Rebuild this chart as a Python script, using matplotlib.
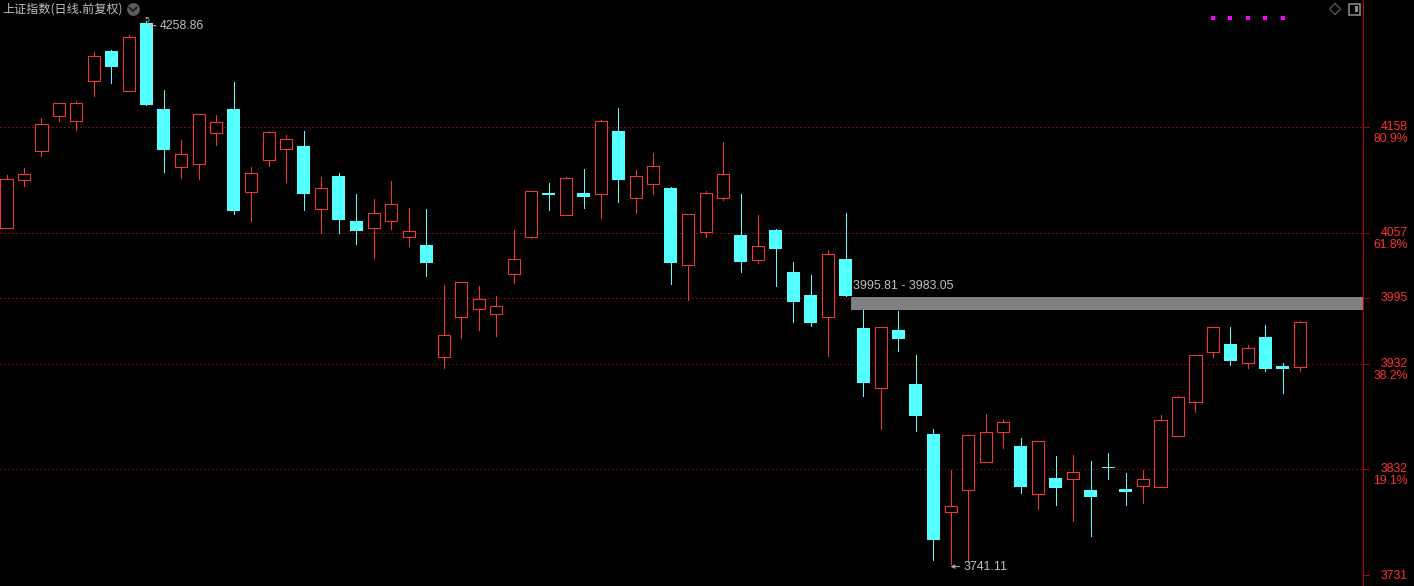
import matplotlib
matplotlib.use("Agg")
import matplotlib.pyplot as plt
from matplotlib.patches import Rectangle
import numpy as np

plt.rcParams['font.family'] = ['Liberation Sans', 'Noto Sans CJK SC', 'DejaVu Sans']

# daily candles, oldest first
opens = [4061.7, 4107.4, 4135.0, 4168.3, 4163.5, 4201.6, 4229.9, 4192.1, 4256.5, 4174.6,
         4119.8, 4122.6, 4152.1, 4174.6, 4096.0, 4126.4, 4136.9, 4139.4, 4079.7, 4110.9,
         4068.0, 4061.7, 4068.3, 4053.1, 4045.2, 3938.9, 3977.0, 3984.6, 3979.8, 4017.9,
         4053.1, 4094.7, 4074.1, 4094.7, 4094.1, 4153.7, 4090.3, 4103.6, 4099.5, 4026.5,
         4057.6, 4090.3, 4054.7, 4031.2, 4059.5, 4019.5, 3997.6, 3977.0, 4031.9, 3966.2,
         3909.4, 3964.3, 3912.9, 3865.3, 3791.4, 3812.3, 3839.0, 3867.5, 3853.9, 3808.5,
         3823.4, 3822.8, 3812.0, 3833.9, 3812.9, 3816.1, 3815.2, 3863.7, 3896.1, 3943.7,
         3951.0, 3933.2, 3957.6, 3930.0, 3929.4]
closes = [4107.7, 4112.5, 4160.0, 4180.0, 4180.0, 4224.8, 4214.7, 4242.9, 4178.4, 4135.6,
          4131.5, 4169.6, 4161.9, 4077.6, 4113.4, 4152.4, 4145.8, 4093.7, 4099.1, 4069.0,
          4058.5, 4075.3, 4083.9, 4058.2, 4028.0, 3959.2, 4009.7, 3993.5, 3986.8, 4031.6,
          4096.3, 4092.8, 4108.7, 4090.9, 4162.9, 4107.1, 4110.6, 4120.1, 4028.1, 4074.4,
          4094.4, 4112.5, 4029.0, 4043.9, 4041.4, 3990.9, 3970.9, 4036.3, 3996.6, 3913.8,
          3966.8, 3955.7, 3882.4, 3764.4, 3796.4, 3864.0, 3866.9, 3876.4, 3814.8, 3858.3,
          3813.9, 3828.8, 3805.3, 3832.9, 3810.1, 3822.1, 3878.3, 3900.2, 3940.2, 3966.8,
          3934.8, 3946.8, 3927.2, 3927.2, 3971.6]
highs = [4111.5, 4118.5, 4166.1, 4180.0, 4181.9, 4228.9, 4230.8, 4245.1, 4258.86, 4192.7,
         4145.1, 4169.6, 4168.9, 4200.3, 4119.4, 4153.4, 4149.9, 4153.7, 4109.9, 4113.7,
         4093.7, 4089.0, 4106.1, 4080.4, 4079.4, 4007.1, 4009.7, 4006.2, 3996.6, 4059.5,
         4096.3, 4104.2, 4109.9, 4117.5, 4164.2, 4175.6, 4116.6, 4132.8, 4100.4, 4074.4,
         4096.3, 4143.2, 4093.7, 4073.8, 4060.4, 4029.0, 4016.6, 4040.4, 4075.7, 3995.0,
         3966.8, 3982.4, 3940.5, 3870.1, 3831.0, 3864.0, 3884.3, 3878.6, 3861.5, 3858.3,
         3844.4, 3845.3, 3839.6, 3847.2, 3828.2, 3831.0, 3883.4, 3901.5, 3940.2, 3966.8,
         3967.2, 3950.0, 3969.1, 3932.9, 3972.9]
lows = [4061.7, 4101.7, 4130.2, 4163.5, 4155.0, 4187.3, 4199.7, 4192.1, 4178.4, 4114.7,
        4109.0, 4108.0, 4140.4, 4074.7, 4068.0, 4120.4, 4105.1, 4078.5, 4056.9, 4056.6,
        4046.1, 4032.8, 4060.4, 4044.2, 4015.6, 3928.1, 3956.7, 3964.3, 3958.6, 4009.0,
        4051.9, 4078.5, 4074.1, 4080.4, 4070.9, 4086.1, 4075.7, 4093.7, 4008.1, 3992.8,
        4052.8, 4088.0, 4019.5, 4028.1, 4006.2, 3971.9, 3968.1, 3939.5, 3996.6, 3901.4,
        3870.1, 3944.3, 3868.1, 3745.3, 3741.11, 3743.8, 3839.0, 3852.0, 3809.1, 3793.9,
        3797.7, 3782.5, 3768.2, 3822.5, 3797.7, 3799.6, 3815.2, 3863.7, 3886.2, 3938.6,
        3931.0, 3928.1, 3925.3, 3904.3, 3925.3]

# right hand scale
strong_levels = [4158, 4057, 3995]
weak_levels = [3932, 3832]
scale_ticks = [4158, 4057, 3995, 3932, 3832, 3731]
pct_levels = [4158, 4057, 3932, 3832]
pct_labels = ['80.9%', '61.8%', '38.2%', '19.1%']

# gap zone and the purple signal dots
gap_top = 3995.81
gap_bottom = 3983.05
signal_idx = [69, 70, 71, 72, 73]
signal_price = [4261, 4261, 4261, 4261, 4261]

RED = '#ff3232'
CYAN = '#54ffff'
GREY = '#c0c0c0'
AXIS_RED = '#c00000'
W, H = 1414, 586

fig = plt.figure(figsize=(W / 100, H / 100), dpi=100, facecolor='black')
ax = fig.add_axes([0, 0, 1363 / W, 1], facecolor='black')

step = 17.485
ax.set_xlim(-6.5 / step, (1363 - 6.5) / step)
ax.set_ylim(4158 - (586 - 126.5) * 0.952, 4158 + 126.5 * 0.952)

px = 0.72  # 1 pixel in points
for lv in strong_levels:
    ax.axhline(lv, color='#ff1818', lw=px, ls=(0, (1, 3)), zorder=1)
for lv in weak_levels:
    ax.axhline(lv, color='#c01010', lw=px, ls=(0, (1, 3)), zorder=1)

x = np.arange(len(opens))
o = np.array(opens)
c = np.array(closes)
up = c >= o
colors = [RED if u else CYAN for u in up]

ax.vlines(x, lows, highs, colors=colors, lw=px, zorder=2, antialiased=False)
# up days are hollow, down days are solid
ax.bar(x[up], (c - o)[up], bottom=o[up], width=0.69, facecolor='black',
       edgecolor=RED, linewidth=px, zorder=3, antialiased=False)
ax.bar(x[~up], (o - c)[~up], bottom=c[~up], width=0.74, facecolor=CYAN,
       edgecolor=CYAN, linewidth=0, zorder=3, antialiased=False)

# gap zone runs from the candle after the break to the scale
gap_x0 = (851 - 6.5) / step
ax.fill_between([gap_x0, ax.get_xlim()[1]], gap_bottom, gap_top, color='#808080', lw=0, zorder=4)
ax.text(gap_x0 + 0.1, gap_top + 10, '3995.81 - 3983.05', color=GREY, fontsize=8.9,
        va='center', ha='left', zorder=5)

# high and low markers
ax.annotate('4258.86', xy=(8.1, 4254), xytext=(12, 0), textcoords='offset pixels',
            color=GREY, fontsize=8.9, va='center', ha='left', zorder=5,
            arrowprops=dict(arrowstyle='->', color=GREY, lw=px, shrinkA=1, shrinkB=0, mutation_scale=6))
ax.text(8.05, 4259, '5', color=GREY, fontsize=6, va='center', ha='center', zorder=5)
ax.annotate('3741.11', xy=(54, 3739), xytext=(13, 0), textcoords='offset pixels',
            color=GREY, fontsize=8.9, va='center', ha='left', zorder=5,
            arrowprops=dict(arrowstyle='->', color=GREY, lw=px, shrinkA=1, shrinkB=0, mutation_scale=6))

ax.scatter(signal_idx, signal_price, s=6, marker='s', color='#ff00ff', lw=0, zorder=5, antialiased=False)

# axes styling
for side in ['top', 'left', 'bottom']:
    ax.spines[side].set_visible(False)
ax.spines['right'].set_color(AXIS_RED)
ax.spines['right'].set_linewidth(px)
ax.spines['right'].set_antialiased(False)
ax.set_xticks([])
ax.yaxis.tick_right()
ax.set_yticks(scale_ticks)
ax.tick_params(axis='y', colors=AXIS_RED, length=4.3, width=px, labelright=False)

for lv in scale_ticks:
    ax.annotate(str(lv), xy=(1, lv), xycoords=('axes fraction', 'data'), xytext=(45, -0.5),
                textcoords='offset pixels', ha='right', va='center', color=RED,
                fontsize=8.8, annotation_clip=False)
for lv, lab in zip(pct_levels, pct_labels):
    ax.annotate(lab, xy=(1, lv), xycoords=('axes fraction', 'data'), xytext=(45, -12.5),
                textcoords='offset pixels', ha='right', va='center', color=RED,
                fontsize=8.8, annotation_clip=False)

# title and small toolbar icons, drawn in pixel coordinates
overlay = fig.add_axes([0, 0, 1, 1], facecolor='none')
overlay.set_xlim(0, W)
overlay.set_ylim(H, 0)
overlay.axis('off')
overlay.text(2, 9, '上证指数(日线.前复权)', color=GREY, fontsize=8.7,
             family=['Noto Sans CJK SC', 'DejaVu Sans'], va='center', ha='left')
overlay.scatter([133], [9], s=85, marker='o', color='#5c5c5c', lw=0)
overlay.plot([129.5, 133, 136.5], [7.5, 11, 7.5], color='#1c1c1c', lw=1.3)
overlay.scatter([1335], [9], s=32, marker='D', facecolor='none', edgecolor='#707070', lw=px)
overlay.add_patch(Rectangle((1348.5, 3.5), 11, 11, fill=False, edgecolor='#909090', lw=1.1))
overlay.add_patch(Rectangle((1355, 6), 3, 6, color='#909090', lw=0))

fig.savefig('out.png', dpi=100, facecolor='black')
